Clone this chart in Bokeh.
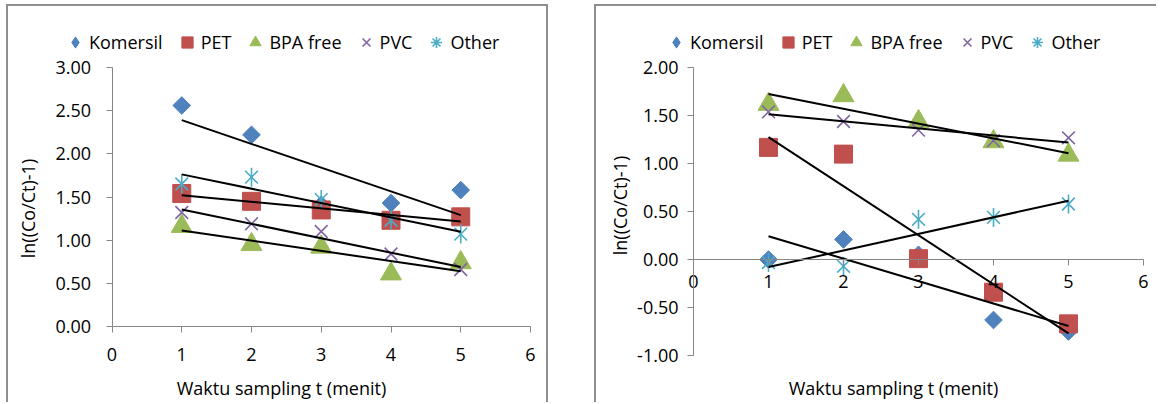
import numpy as np
from bokeh.plotting import figure
from bokeh.layouts import row
from bokeh.models import Legend, LegendItem, Label, Range1d, FixedTicker, NumeralTickFormatter
from bokeh.embed import file_html
from bokeh.resources import INLINE

# ---------------- data ----------------
t = [1, 2, 3, 4, 5]
series_names = ["Komersil", "PET", "BPA free", "PVC", "Other"]

left_komersil = [2.56, 2.22, 1.41, 1.43, 1.58]
left_pet = [1.54, 1.45, 1.35, 1.23, 1.27]
left_bpa = [1.16, 0.95, 0.92, 0.61, 0.74]
left_pvc = [1.32, 1.19, 1.10, 0.84, 0.66]
left_other = [1.65, 1.73, 1.47, 1.23, 1.07]

right_komersil = [0.00, 0.21, 0.05, -0.63, -0.75]
right_pet = [1.17, 1.10, 0.01, -0.34, -0.67]
right_bpa = [1.62, 1.71, 1.44, 1.23, 1.09]
right_pvc = [1.54, 1.44, 1.35, 1.24, 1.27]
right_other = [-0.03, -0.07, 0.42, 0.44, 0.58]

x_ticks = [0, 1, 2, 3, 4, 5, 6]
left_y_ticks = [0.0, 0.5, 1.0, 1.5, 2.0, 2.5, 3.0]
right_y_ticks = [-1.0, -0.5, 0.0, 0.5, 1.0, 1.5, 2.0]

x_title = "Waktu sampling t (menit)"
y_title = "ln((Co/Ct)-1)"

# ---------------- style ----------------
FONT = "Open Sans"
FS = "18px"
AXIS_COLOR = "#868686"
BORDER = "2px solid #8e8e8e"
CANVAS_H = 398
colors = ["#4F81BD", "#C0504D", "#9BBB59", "#8064A2", "#4BACC6"]
NAN = [float("nan")]   # legend-only swatches (never visible in the plot area)


def span_range(lo, hi, px_lo, px_hi, px_total, flip=False):
    """Range covering the whole canvas so that [lo, hi] spans the pixels [px_lo, px_hi]."""
    unit = (hi - lo) / (px_hi - px_lo)
    if not flip:
        return Range1d(lo - px_lo * unit, hi + (px_total - px_hi) * unit)
    return Range1d(lo - (px_total - px_hi) * unit, hi + px_lo * unit)


def add_series(p, vals, idx):
    col = colors[idx]
    if idx == 0:   # Komersil: diamond (rotated square)
        p.scatter(t, vals, marker="square", size=12.5, angle=np.pi / 4,
                  fill_color=col, line_color=col)
        leg = p.scatter(NAN, NAN, marker="diamond", size=14, fill_color=col, line_color=col)
        return [leg]
    if idx == 1:   # PET: square
        r = p.scatter(t, vals, marker="square", size=18, fill_color=col, line_color=col)
        return [r]
    if idx == 2:   # BPA free: triangle
        r = p.scatter(t, vals, marker="triangle", size=21, fill_color=col, line_color=col)
        return [r]
    if idx == 3:   # PVC: x
        r = p.scatter(t, vals, marker="x", size=18, line_color=col, line_width=1.6)
        return [r]
    # Other: star = x + vertical bar
    p.scatter(t, vals, marker="x", size=18, line_color=col, line_width=1.6)
    p.scatter(t, vals, marker="dash", size=19, angle=np.pi / 2, line_color=col, line_width=1.6)
    leg = p.scatter(NAN, NAN, marker="asterisk", size=14, line_color=col, line_width=1.6)
    return [leg]


def make_chart(series, yext, y_ticks, width, borders, frame_px, legend_loc,
               xt_pos, yt_pos, y_std, x_std):
    fl, fr, ft, fb = frame_px
    p = figure(width=width, height=CANVAS_H,
               x_range=span_range(0, 6, fl, fr, width),
               y_range=span_range(yext[0], yext[1], ft, fb, CANVAS_H, flip=True),
               output_backend="svg", toolbar_location=None,
               min_border=0)
    p.grid.visible = False
    p.outline_line_color = None
    p.background_fill_color = "white"
    p.border_fill_color = "white"

    leg_rends = [add_series(p, vals, i) for i, vals in enumerate(series)]
    for vals in series:
        k, b = np.polyfit(t, vals, 1)
        xs = [t[0], t[-1]]
        p.line(xs, [k * xx + b for xx in xs], line_color="black", line_width=2)

    for ax in (p.xaxis[0], p.yaxis[0]):
        ax.axis_line_color = AXIS_COLOR
        ax.major_tick_line_color = AXIS_COLOR
        ax.minor_tick_line_color = None
        ax.major_tick_out = 6
        ax.major_tick_in = 0
        ax.major_label_text_font = FONT
        ax.major_label_text_font_size = FS
        ax.major_label_text_color = "black"
        ax.fixed_location = 0
    p.xaxis[0].bounds = (x_ticks[0], x_ticks[-1])
    p.yaxis[0].bounds = (y_ticks[0], y_ticks[-1])
    p.xaxis[0].ticker = FixedTicker(ticks=x_ticks)
    p.yaxis[0].ticker = FixedTicker(ticks=y_ticks)
    p.yaxis[0].formatter = NumeralTickFormatter(format="0.00")
    p.yaxis[0].major_label_standoff = y_std
    p.xaxis[0].major_label_standoff = x_std

    p.add_layout(Label(x=xt_pos[0], y=xt_pos[1], x_units="screen", y_units="screen",
                       text=x_title, text_align="center", text_baseline="middle",
                       text_font=FONT, text_font_size=FS, text_color="black"))
    p.add_layout(Label(x=yt_pos[0], y=yt_pos[1], x_units="screen", y_units="screen",
                       text=y_title, text_align="center", text_baseline="middle",
                       angle=np.pi / 2,
                       text_font=FONT, text_font_size=FS, text_color="black"))

    legend = Legend(items=[LegendItem(label=n, renderers=rs) for n, rs in zip(series_names, leg_rends)],
                    orientation="horizontal", location=legend_loc,
                    glyph_width=28, glyph_height=28, label_height=28, label_standoff=-3,
                    spacing=10, padding=0, margin=0, border_line_color=None,
                    background_fill_alpha=0, label_text_font=FONT, label_text_font_size=FS,
                    label_text_color="black")
    p.add_layout(legend)
    p.styles = borders
    return p


# left chart canvas starts at page (8, 6); right chart canvas at page (600, 6)
left = make_chart([left_komersil, left_pet, left_bpa, left_pvc, left_other],
                  (0, 3), left_y_ticks, 542,
                  {"border-top": BORDER, "border-left": BORDER, "border-right": BORDER},
                  (103.5, 522, 61, 320), (53, 348), (273, 17), (19.5, 196), 15, 15)
left.margin = (4, 0, 0, 6)

right = make_chart([right_komersil, right_pet, right_bpa, right_pvc, right_other],
                   (-1, 2), right_y_ticks, 562,
                   {"border-top": BORDER, "border-left": BORDER},
                   (97, 547, 61.3, 349), (66, 348), (297, 17), (23, 199), 9, 9)
right.margin = (4, 0, 0, 46)

layout = row(left, right)
open("out.html", "w").write(file_html(layout, INLINE))
